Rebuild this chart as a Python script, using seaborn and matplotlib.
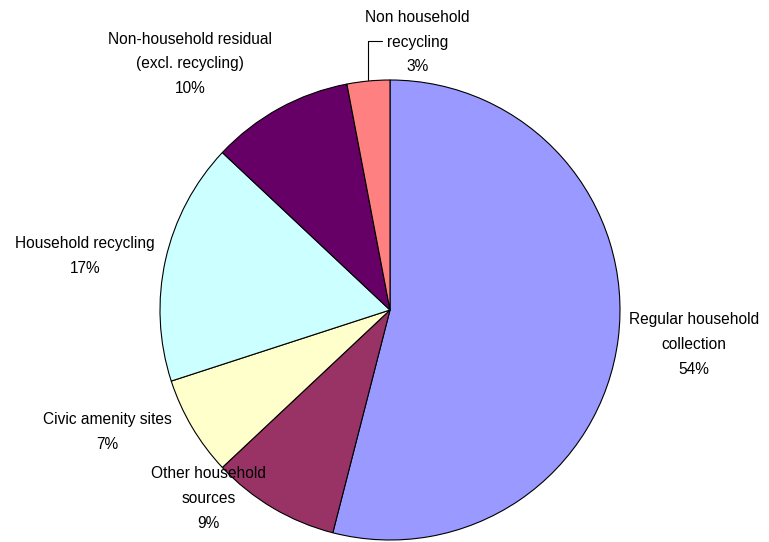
import matplotlib
matplotlib.use("Agg")
import matplotlib.pyplot as plt
import seaborn as sns

# Waste sources, clockwise from 12 o'clock
categories = [
    "Regular household\ncollection",
    "Other household\nsources",
    "Civic amenity sites",
    "Household recycling",
    "Non-household residual\n(excl. recycling)",
    "Non household\nrecycling",
]
shares = [54, 9, 7, 17, 10, 3]
colors = ["#9999FF", "#993366", "#FFFFCC", "#CCFFFF", "#660066", "#FF8080"]

# label anchor points (pie units, radius = 1)
label_pos = [
    (1.32, -0.15),
    (-0.79, -0.82),
    (-1.23, -0.53),
    (-1.326, 0.235),
    (-0.87, 1.07),
    (0.12, 1.165),
]

sns.set_theme(style="white")
plt.rcParams["font.family"] = ["Liberation Sans", "DejaVu Sans"]

fig = plt.figure(figsize=(7.69, 5.42), dpi=100)
ax = fig.add_axes([0, 0, 1, 1])

wedges, _ = ax.pie(
    shares,
    colors=colors,
    startangle=90,
    counterclock=False,
    radius=1.0,
    wedgeprops=dict(edgecolor="black", linewidth=0.8),
)

for name, val, (lx, ly) in zip(categories, shares, label_pos):
    ax.text(lx, ly, f"{name}\n{val}%", ha="center", va="center",
            fontsize=11.2, color="black", linespacing=1.8)

# leader line for the small slice
ax.plot([-0.096, -0.096, -0.035], [0.998, 1.17, 1.17], color="black", lw=0.8)

ax.set_xlim(-390 / 230, (769 - 390) / 230)
ax.set_ylim((310 - 542) / 230, 310 / 230)
ax.set_aspect("auto")
ax.axis("off")

fig.savefig("out.png", dpi=100)
